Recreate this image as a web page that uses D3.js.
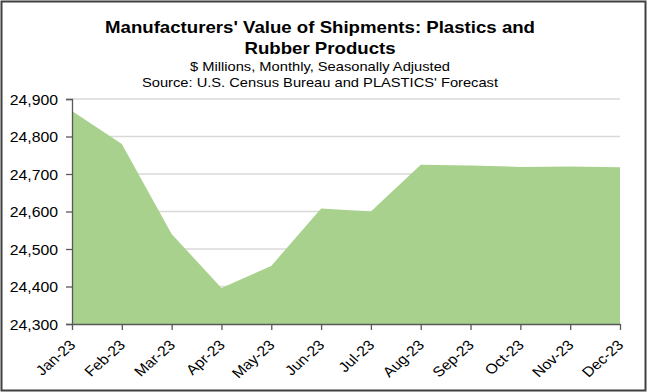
<!DOCTYPE html>
<html><head><meta charset="utf-8">
<script src="https://cdn.jsdelivr.net/npm/d3@7"></script>
<style>html,body{margin:0;padding:0;background:#fff;}svg{display:block;}</style>
</head><body>
<script>
const months = ["Jan-23","Feb-23","Mar-23","Apr-23","May-23","Jun-23","Jul-23","Aug-23","Sep-23","Oct-23","Nov-23","Dec-23"];
const shipments = [24868, 24780, 24540, 24396, 24455, 24608, 24600, 24725, 24723, 24719, 24720, 24718];
const yTicks = [24300, 24400, 24500, 24600, 24700, 24800, 24900];
const titleLines = ["Manufacturers' Value of Shipments: Plastics and", "Rubber Products"];
const subtitleLines = ["$ Millions, Monthly, Seasonally Adjusted", "Source: U.S. Census Bureau and PLASTICS' Forecast"];

const W = 647, H = 392, SX = 1.13;
const font = "Arial, 'Liberation Sans', sans-serif";
const svg = d3.select("body").append("svg").attr("width", W).attr("height", H);

svg.append("rect").attr("x", 1.5).attr("y", 1.5).attr("width", W - 3).attr("height", H - 3)
  .attr("fill", "#fff").attr("stroke", "#3f3f3f").attr("stroke-width", 2);

const x = d3.scalePoint().domain(months).range([72, 620]);
const y = d3.scaleLinear().domain([24300, 24900]).range([324, 99]);

// gridlines
svg.append("g").selectAll("line").data(yTicks.slice(1)).join("line")
  .attr("x1", 72).attr("x2", 620).attr("y1", d => y(d)).attr("y2", d => y(d))
  .attr("stroke", "#d9d9d9").attr("stroke-width", 1.5);

// area
const area = d3.area().x(d => x(d.m)).y0(y(24300)).y1(d => y(d.v));
svg.append("path").datum(months.map((m, i) => ({m, v: shipments[i]})))
  .attr("d", area).attr("fill", "#a9d18e");

// y axis
const yAxis = svg.append("g").attr("transform", "translate(72,0)")
  .call(d3.axisLeft(y).tickValues(yTicks).tickSize(6).tickFormat(d3.format(",")));
yAxis.select(".domain").attr("stroke", "#595959").attr("stroke-width", 1.3);
yAxis.selectAll(".tick line").attr("stroke", "#595959").attr("stroke-width", 1.3);
yAxis.selectAll(".tick text").each(function(d) {
  const t = d3.select(this);
  t.attr("x", null).attr("dy", null).attr("text-anchor", "end")
   .attr("font-family", font).attr("font-size", 14).attr("fill", "#000")
   .attr("transform", `translate(-14,5) scale(${SX},1)`);
});

// x axis
const xAxis = svg.append("g").attr("transform", "translate(0,324)")
  .call(d3.axisBottom(x).tickSize(6).tickSizeOuter(0));
xAxis.select(".domain").attr("stroke", "#595959").attr("stroke-width", 1.3);
xAxis.selectAll(".tick line").attr("stroke", "#595959").attr("stroke-width", 1.3);
xAxis.selectAll(".tick text")
  .attr("y", null).attr("dy", null).attr("text-anchor", "end")
  .attr("font-family", font).attr("font-size", 14).attr("fill", "#000")
  .attr("transform", `translate(4,22) scale(${SX},1) rotate(-45)`);
svg.selectAll(".domain, .tick").attr("font-family", font);

// titles
const cx = 320;
[33, 54].forEach((by, i) => {
  svg.append("text").text(titleLines[i])
    .attr("transform", `translate(${cx},${by}) scale(${SX},1)`)
    .attr("text-anchor", "middle").attr("font-family", font)
    .attr("font-weight", "bold").attr("font-size", 16.5).attr("fill", "#000");
});
[71, 87].forEach((by, i) => {
  svg.append("text").text(subtitleLines[i])
    .attr("transform", `translate(${cx},${by}) scale(${SX},1)`)
    .attr("text-anchor", "middle").attr("font-family", font)
    .attr("font-size", 13).attr("fill", "#000");
});
</script>
</body></html>
